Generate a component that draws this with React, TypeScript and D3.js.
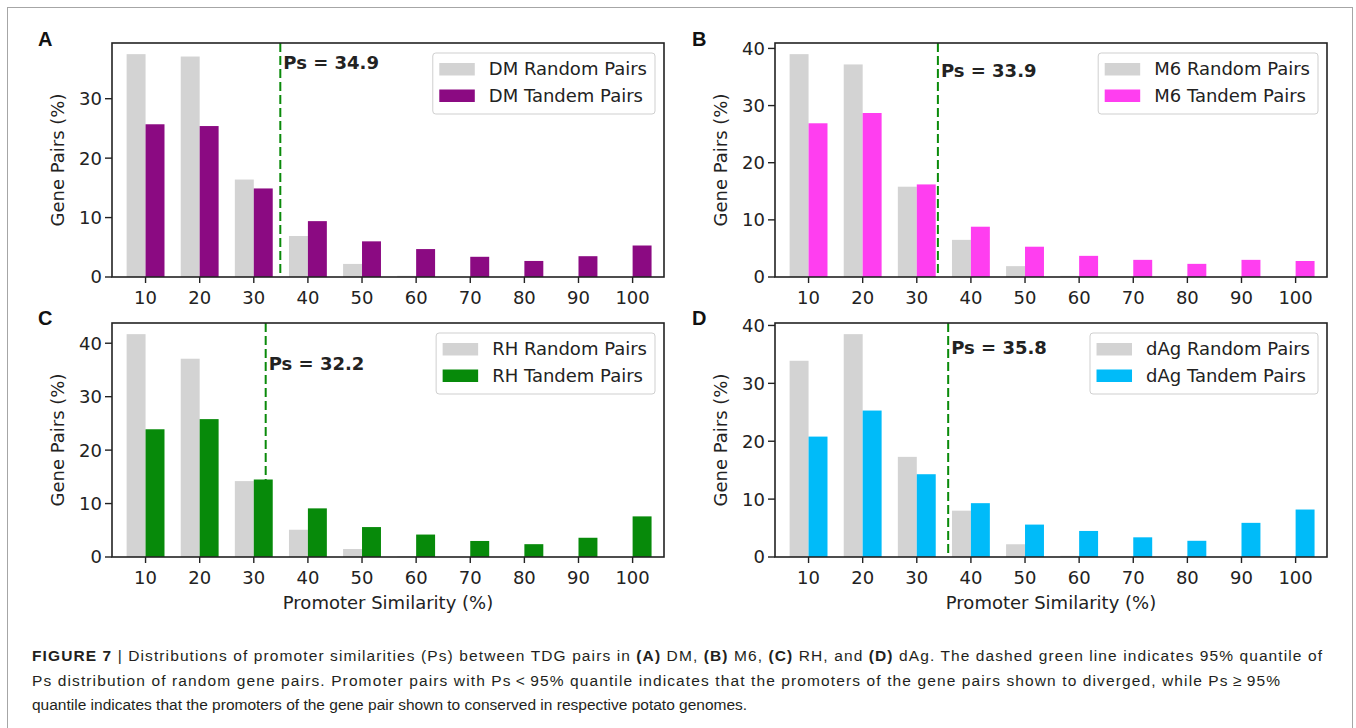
import * as d3 from "d3";
import { useMemo } from "react";

// promoter similarity bins (x axis categories)
const bins = [10, 20, 30, 40, 50, 60, 70, 80, 90, 100];

// gene pairs (%) per bin
const dmRandom = [37.5, 37.1, 16.4, 6.9, 2.2, 0.2, 0, 0, 0, 0];
const dmTandem = [25.7, 25.4, 14.9, 9.4, 6.0, 4.7, 3.4, 2.7, 3.5, 5.3];
const m6Random = [39.0, 37.2, 15.8, 6.5, 1.9, 0.2, 0, 0, 0, 0];
const m6Tandem = [26.9, 28.7, 16.2, 8.8, 5.3, 3.7, 3.0, 2.3, 3.0, 2.8];
const rhRandom = [41.7, 37.1, 14.2, 5.1, 1.5, 0.1, 0, 0, 0, 0];
const rhTandem = [23.9, 25.8, 14.5, 9.1, 5.6, 4.2, 3.0, 2.4, 3.6, 7.6];
const dagRandom = [33.9, 38.5, 17.3, 8.0, 2.2, 0.2, 0, 0, 0, 0];
const dagTandem = [20.8, 25.3, 14.3, 9.3, 5.6, 4.5, 3.4, 2.8, 5.9, 8.2];

// 95% quantile of random pairs
const psValues = [34.9, 33.9, 32.2, 35.8];

const yTicksA = [0, 10, 20, 30];
const yTicksRest = [0, 10, 20, 30, 40];

const W = 1356;
const H = 728;
const PW = 552;
const PH = 234;
const xDomain = [3.8, 105.8];
const barW = 3.5;

const panels = [
  { label: "A", name: "DM", random: dmRandom, tandem: dmTandem, ps: psValues[0], color: "#8b0a82", yTicks: yTicksA, left: 112, top: 43, xlabel: false },
  { label: "B", name: "M6", random: m6Random, tandem: m6Tandem, ps: psValues[1], color: "#ff3ef0", yTicks: yTicksRest, left: 775, top: 43, xlabel: false },
  { label: "C", name: "RH", random: rhRandom, tandem: rhTandem, ps: psValues[2], color: "#078a0a", yTicks: yTicksRest, left: 112, top: 323, xlabel: true },
  { label: "D", name: "dAg", random: dagRandom, tandem: dagTandem, ps: psValues[3], color: "#00bbf9", yTicks: yTicksRest, left: 775, top: 323, xlabel: true },
];

const chartFont = "'DejaVu Sans', sans-serif";
const ink = "#222";

function measure(text, font) {
  const ctx = document.createElement("canvas").getContext("2d");
  ctx.font = font;
  return ctx.measureText(text).width;
}

function Panel({ p }) {
  const x = d3.scaleLinear().domain(xDomain).range([p.left, p.left + PW]);
  const ymax = d3.max([...p.random, ...p.tandem]) * 1.05;
  const y = d3.scaleLinear().domain([0, ymax]).range([p.top + PH, p.top]);
  const bottom = p.top + PH;

  const randLabel = `${p.name} Random Pairs`;
  const tandLabel = `${p.name} Tandem Pairs`;
  const textW = useMemo(
    () => Math.max(measure(randLabel, `18px ${chartFont}`), measure(tandLabel, `18px ${chartFont}`)),
    [randLabel, tandLabel]
  );
  const legW = 56 + textW + 8;
  const legX = p.left + PW - 9 - legW;
  const legY = p.top + 10;

  return (
    <g fontFamily={chartFont} fontSize={18} fill={ink}>
      {/* panel letter */}
      <text x={p.label === "A" || p.label === "C" ? 38 : 692} y={p.top + 3 - (p.top > 100 ? 1 : 0)} fontFamily="'Liberation Sans', Arial, sans-serif" fontWeight="bold" fontSize={20} fill="#111">
        {p.label}
      </text>

      {/* quantile line */}
      <line x1={x(p.ps)} x2={x(p.ps)} y1={p.top} y2={bottom} stroke="#0a8a0a" strokeWidth={2} strokeDasharray="9,4" />

      {/* bars */}
      {bins.map((b, i) => (
        <g key={b}>
          <rect x={x(b - barW)} width={x(b) - x(b - barW)} y={y(p.random[i])} height={bottom - y(p.random[i])} fill="#d3d3d3" />
          <rect x={x(b)} width={x(b + barW) - x(b)} y={y(p.tandem[i])} height={bottom - y(p.tandem[i])} fill={p.color} />
        </g>
      ))}

      {/* frame */}
      <rect x={p.left} y={p.top} width={PW} height={PH} fill="none" stroke={ink} strokeWidth={1.6} />

      {/* y axis */}
      {p.yTicks.map((t) => (
        <g key={t}>
          <line x1={p.left - 7} x2={p.left} y1={y(t)} y2={y(t)} stroke={ink} strokeWidth={1.4} />
          <text x={p.left - 10} y={y(t)} textAnchor="end" dy="0.36em">{t}</text>
        </g>
      ))}
      <text transform={`translate(${p.left - 48.5},${p.top + PH / 2}) rotate(-90)`} textAnchor="middle">
        Gene Pairs (%)
      </text>

      {/* x axis */}
      {bins.map((b) => (
        <g key={b}>
          <line x1={x(b)} x2={x(b)} y1={bottom} y2={bottom + 6} stroke={ink} strokeWidth={1.4} />
          <text x={x(b)} y={bottom + 26.5} textAnchor="middle">{b}</text>
        </g>
      ))}
      {p.xlabel && (
        <text x={p.left + PW / 2} y={bottom + 52} textAnchor="middle">Promoter Similarity (%)</text>
      )}

      {/* Ps annotation */}
      <text x={x(p.ps) + 3} y={y(35)} fontWeight="bold">{`Ps = ${p.ps}`}</text>

      {/* legend */}
      <rect x={legX} y={legY} width={legW} height={61} rx={3} fill="#fff" fillOpacity={0.8} stroke="#cfcfcf" strokeWidth={1} />
      <rect x={legX + 6.5} y={legY + 10} width={35.5} height={12.5} fill="#d3d3d3" />
      <rect x={legX + 6.5} y={legY + 36.5} width={35.5} height={12.5} fill={p.color} />
      <text x={legX + 56} y={legY + 22}>{randLabel}</text>
      <text x={legX + 56} y={legY + 49}>{tandLabel}</text>
    </g>
  );
}

export default function App() {
  const capFont = "'Liberation Sans', Arial, Helvetica, sans-serif";
  const B = ({ children }) => <tspan fontWeight="bold">{children}</tspan>;
  return (
    <svg width={W} height={H} style={{ position: "absolute", left: 0, top: 0, background: "#fff" }}>
      <rect x={0} y={0} width={W} height={H} fill="#fff" />
      <rect x={7.5} y={7.5} width={1345} height={760} fill="none" stroke="#a6a6a6" strokeWidth={1} />
      {panels.map((p) => (
        <Panel key={p.label} p={p} />
      ))}
      <g fontFamily={capFont} fontSize={15.5} fill="#231f20">
        <text x={32} y={661} textLength={1290} lengthAdjust="spacing">
          <B>FIGURE 7</B> | Distributions of promoter similarities (Ps) between TDG pairs in <B>(A)</B> DM, <B>(B)</B> M6, <B>(C)</B> RH, and <B>(D)</B> dAg. The dashed green line indicates 95% quantile of
        </text>
        <text x={32} y={686} textLength={1248} lengthAdjust="spacing">
          {"Ps distribution of random gene pairs. Promoter pairs with Ps\u2009<\u200995% quantile indicates that the promoters of the gene pairs shown to diverged, while Ps\u2009\u2265\u200995%"}
        </text>
        <text x={32} y={710}>
          quantile indicates that the promoters of the gene pair shown to conserved in respective potato genomes.
        </text>
      </g>
    </svg>
  );
}
